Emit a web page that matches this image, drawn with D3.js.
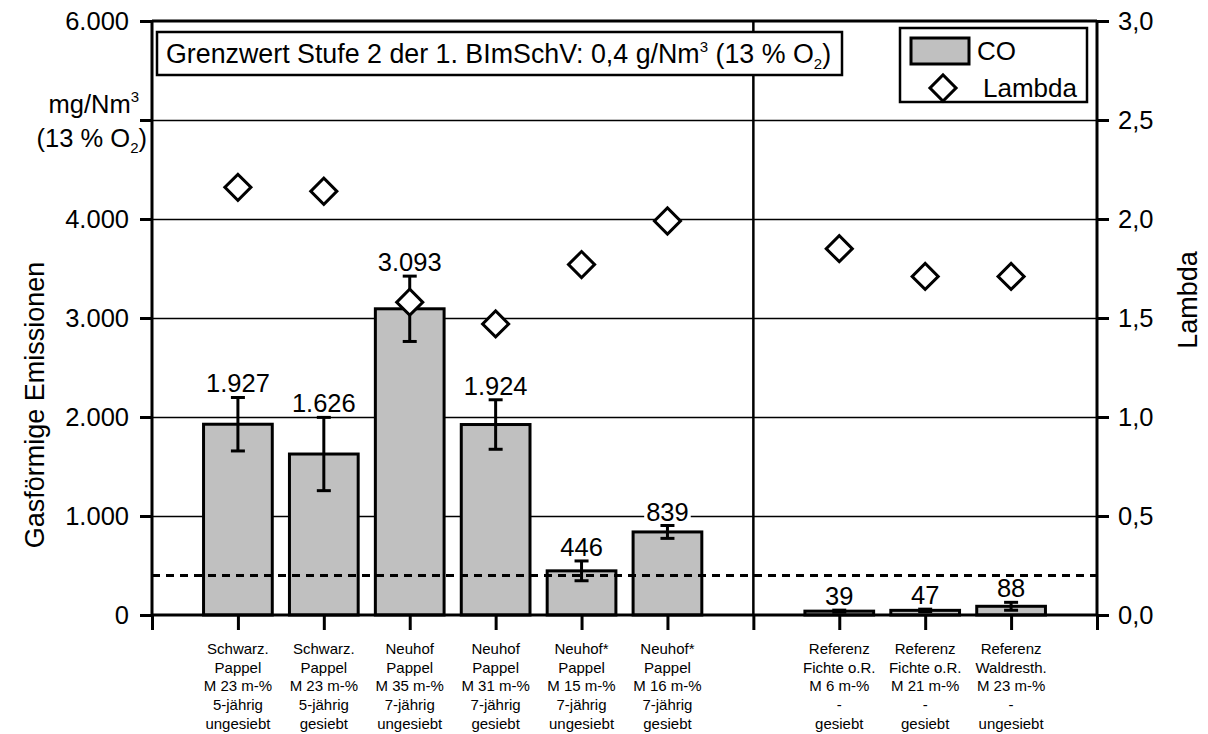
<!DOCTYPE html>
<html>
<head>
<meta charset="utf-8">
<script src="https://cdn.jsdelivr.net/npm/d3@7"></script>
<style>
  html, body { margin: 0; padding: 0; background: #fff; }
  svg { display: block; font-family: "Liberation Sans", Arial, sans-serif; }
</style>
</head>
<body>
<svg id="chart" width="1208" height="734"></svg>
<script>
// ---------- data ----------
const categories = [
  "Schwarz.\nPappel\nM 23 m-%\n5-jährig\nungesiebt",
  "Schwarz.\nPappel\nM 23 m-%\n5-jährig\ngesiebt",
  "Neuhof\nPappel\nM 35 m-%\n7-jährig\nungesiebt",
  "Neuhof\nPappel\nM 31 m-%\n7-jährig\ngesiebt",
  "Neuhof*\nPappel\nM 15 m-%\n7-jährig\nungesiebt",
  "Neuhof*\nPappel\nM 16 m-%\n7-jährig\ngesiebt",
  "",
  "Referenz\nFichte o.R.\nM 6 m-%\n-\ngesiebt",
  "Referenz\nFichte o.R.\nM 21 m-%\n-\ngesiebt",
  "Referenz\nWaldresth.\nM 23 m-%\n-\nungesiebt"
];
const coValues    = [1927, 1626, 3093, 1924, 446, 839, null, 39, 47, 88];
const coErrors    = [270, 370, 330, 250, 100, 65, null, 10, 12, 40];
const lambdaValues = [2.16, 2.14, 1.58, 1.47, 1.77, 1.99, null, 1.85, 1.71, 1.71];
const limitValue = 400;
const yTicks = [0, 1000, 2000, 3000, 4000, 5000, 6000];
const yTickLabelsHidden = [5000];
const y2Ticks = [0, 0.5, 1.0, 1.5, 2.0, 2.5, 3.0];

// ---------- setup ----------
const svg = d3.select("#chart");
const L = 152, R = 1097, T = 21, B = 615;
const de = d3.formatLocale({decimal: ",", thousands: ".", grouping: [3], currency: ["", " €"]});
const fmtInt = de.format(",.0f");
const fmt1 = de.format(".1f");

const x = d3.scaleLinear().domain([0, categories.length + 1]).range([L, R]);
const y = d3.scaleLinear().domain([0, 6000]).range([B, T]);
const y2 = d3.scaleLinear().domain([0, 3]).range([B, T]);
const step = x(1) - x(0);
const bw = step * 0.8;
const sepIndex = categories.indexOf("");

// gridlines
svg.append("g").selectAll("line").data(yTicks.filter(d => d > 0 && d < 6000)).join("line")
  .attr("x1", L).attr("x2", R).attr("y1", d => Math.round(y(d)) + 0.5).attr("y2", d => Math.round(y(d)) + 0.5)
  .attr("stroke", "#000").attr("stroke-width", 1.3);

const data = categories.map((c, i) => ({c, i, v: coValues[i], e: coErrors[i], l: lambdaValues[i]}));
const valid = data.filter(d => d.v != null);

// bars
svg.append("g").selectAll("rect").data(valid).join("rect")
  .attr("x", d => x(d.i + 1) - bw / 2).attr("width", bw)
  .attr("y", d => y(d.v)).attr("height", d => y(0) - y(d.v))
  .attr("fill", "#c0c0c0").attr("stroke", "#000").attr("stroke-width", 3);

// error bars
const eb = svg.append("g").attr("stroke", "#000").attr("stroke-width", 3);
valid.forEach(d => {
  const cx = x(d.i + 1);
  const top = y(d.v + d.e), bot = y(Math.max(0, d.v - d.e));
  eb.append("line").attr("x1", cx).attr("x2", cx).attr("y1", top).attr("y2", bot);
  eb.append("line").attr("x1", cx - 7).attr("x2", cx + 7).attr("y1", top).attr("y2", top);
  eb.append("line").attr("x1", cx - 7).attr("x2", cx + 7).attr("y1", bot).attr("y2", bot);
});

// limit dashed line
svg.append("line").attr("x1", L).attr("x2", R).attr("y1", y(limitValue)).attr("y2", y(limitValue))
  .attr("stroke", "#000").attr("stroke-width", 3).attr("stroke-dasharray", "8,6");

// value labels with white background
const lab = svg.append("g");
valid.forEach(d => {
  const g = lab.append("g");
  const t = g.append("text").attr("x", x(d.i + 1)).attr("y", y(d.v + d.e) - 5)
    .attr("text-anchor", "middle").attr("font-size", 25.5).text(fmtInt(d.v));
  const bb = t.node().getBBox();
  g.insert("rect", "text").attr("x", bb.x - 2).attr("y", bb.y + 4).attr("width", bb.width + 4).attr("height", bb.height - 7).attr("fill", "#fff");
});

// lambda diamonds
const diamond = d3.symbol(d3.symbolSquare, 340);
svg.append("g").selectAll("path").data(data.filter(d => d.l != null)).join("path")
  .attr("d", diamond)
  .attr("transform", d => `translate(${x(d.i + 1)},${y2(d.l)}) rotate(45)`)
  .attr("fill", "#fff").attr("stroke", "#000").attr("stroke-width", 3);

// frame: top border, separator
svg.append("line").attr("x1", L).attr("x2", R).attr("y1", T).attr("y2", T).attr("stroke", "#000").attr("stroke-width", 3);
svg.append("line").attr("x1", x(sepIndex + 1)).attr("x2", x(sepIndex + 1)).attr("y1", T).attr("y2", B)
  .attr("stroke", "#000").attr("stroke-width", 2.5);

// left axis
const axL = svg.append("g").attr("transform", `translate(${L},0)`)
  .call(d3.axisLeft(y).tickValues(yTicks).tickSize(12).tickPadding(11)
    .tickFormat(d => yTickLabelsHidden.includes(d) ? "" : fmtInt(d)));
axL.select(".domain").attr("stroke-width", 3).attr("d", `M0,${T}V${B}`);
axL.selectAll(".tick line").attr("stroke-width", 3);
axL.selectAll(".tick text").attr("font-size", 25.5).attr("font-family", "Liberation Sans, Arial, sans-serif").attr("fill", "#000");

// right axis
const axR = svg.append("g").attr("transform", `translate(${R},0)`)
  .call(d3.axisRight(y2).tickValues(y2Ticks).tickSize(12).tickPadding(9).tickFormat(fmt1));
axR.select(".domain").attr("stroke-width", 3).attr("d", `M0,${T}V${B}`);
axR.selectAll(".tick line").attr("stroke-width", 3);
axR.selectAll(".tick text").attr("font-size", 25.5).attr("font-family", "Liberation Sans, Arial, sans-serif").attr("fill", "#000");

// bottom axis
const xTickVals = d3.range(0, categories.length + 2);
const axB = svg.append("g").attr("transform", `translate(0,${B})`)
  .call(d3.axisBottom(x).tickValues(xTickVals).tickSize(15).tickFormat(""));
axB.select(".domain").attr("stroke-width", 3).attr("d", `M${L},0H${R}`);
axB.selectAll(".tick line").attr("stroke-width", 3);

// category labels
const catG = svg.append("g").attr("font-size", 15).attr("text-anchor", "middle").attr("fill", "#000");
categories.forEach((c, i) => {
  if (!c) return;
  const t = catG.append("text").attr("x", x(i + 1)).attr("y", 654);
  c.split("\n").forEach((line, k) => {
    t.append("tspan").attr("x", x(i + 1)).attr("dy", k === 0 ? 0 : 18.7).text(line);
  });
});

// axis titles
svg.append("text").attr("transform", "translate(44,405) rotate(-90)").attr("text-anchor", "middle")
  .attr("font-size", 27).text("Gasförmige Emissionen");
svg.append("text").attr("transform", "translate(1197,300) rotate(-90)").attr("text-anchor", "middle")
  .attr("font-size", 27).text("Lambda");

// unit label
const u1 = svg.append("text").attr("x", 139).attr("y", 113).attr("text-anchor", "end").attr("font-size", 25.5);
u1.append("tspan").text("mg/Nm");
u1.append("tspan").attr("font-size", 15).attr("dy", -11).text("3");
const u2 = svg.append("text").attr("x", 147).attr("y", 147).attr("text-anchor", "end").attr("font-size", 25.5);
u2.append("tspan").text("(13 % O");
u2.append("tspan").attr("font-size", 15).attr("dy", 6).text("2");
u2.append("tspan").attr("dy", -6).text(")");

// Grenzwert box
svg.append("rect").attr("x", 157).attr("y", 32).attr("width", 685).attr("height", 43)
  .attr("fill", "#fff").attr("stroke", "#000").attr("stroke-width", 2.5);
const g1 = svg.append("text").attr("x", 166).attr("y", 63).attr("font-size", 26.8);
g1.append("tspan").text("Grenzwert Stufe 2 der 1. BImSchV: 0,4 g/Nm");
g1.append("tspan").attr("font-size", 15).attr("dy", -11).text("3");
g1.append("tspan").attr("dy", 11).text(" (13 % O");
g1.append("tspan").attr("font-size", 15).attr("dy", 6).text("2");
g1.append("tspan").attr("dy", -6).text(")");

// legend
svg.append("rect").attr("x", 900).attr("y", 28).attr("width", 187).attr("height", 74)
  .attr("fill", "#fff").attr("stroke", "#000").attr("stroke-width", 2.5);
svg.append("rect").attr("x", 911).attr("y", 38).attr("width", 58).attr("height", 26)
  .attr("fill", "#c0c0c0").attr("stroke", "#000").attr("stroke-width", 3);
svg.append("text").attr("x", 977).attr("y", 60).attr("font-size", 26).text("CO");
svg.append("path").attr("d", diamond).attr("transform", "translate(943,88) rotate(45)")
  .attr("fill", "#fff").attr("stroke", "#000").attr("stroke-width", 3);
svg.append("text").attr("x", 983).attr("y", 97).attr("font-size", 26).text("Lambda");
</script>
</body>
</html>
